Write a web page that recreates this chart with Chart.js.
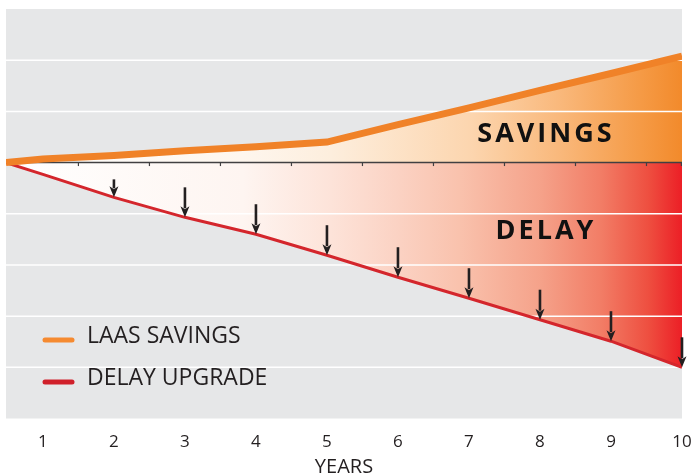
<!DOCTYPE html>
<html>
<head>
<meta charset="utf-8">
<title>LAAS savings vs delay upgrade</title>
<script src="https://cdn.jsdelivr.net/npm/chart.js@4.4.1/dist/chart.umd.min.js"></script>
<style>
  html, body { margin: 0; padding: 0; background: #fff; }
  #wrap { width: 694px; height: 474px; }
</style>
</head>
<body>
<div id="wrap"><canvas id="chart" width="694" height="474"></canvas></div>
<script>
// Years (first point is where both lines start, at the left edge of the plot)
const years = [0.48, 1, 2, 3, 4, 5, 6, 7, 8, 9, 10];
const yearTicks = [1, 2, 3, 4, 5, 6, 7, 8, 9, 10];
const savings = [0, 0.07, 0.14, 0.23, 0.31, 0.40, 0.74, 1.07, 1.41, 1.74, 2.08];
const delay = [0, -0.23, -0.68, -1.07, -1.40, -1.81, -2.24, -2.65, -3.07, -3.49, -4.00];
const arrowYears = [2, 3, 4, 5, 6, 7, 8, 9, 10];
const gridValues = [-4, -3, -2, -1, 1, 2];
const seriesNames = ['LAAS SAVINGS', 'DELAY UPGRADE'];
const areaNames = ['SAVINGS', 'DELAY'];

const FONT = "'Open Sans', 'DejaVu Sans', sans-serif";
const TEXT = '#231f20';

const savingsStops = [
  [0, '#ffffff'], [0.35, '#fef6ee'], [0.48, '#fdeedd'], [0.69, '#fcd5ae'],
  [0.82, '#f9b87b'], [0.94, '#f59a45'], [1, '#f28a2b']
];
const delayStops = [
  [0, '#ffffff'], [0.35, '#fef5f1'], [0.48, '#fde3d9'], [0.58, '#fbd2c3'],
  [0.67, '#f9c2ad'], [0.79, '#f5a28a'], [0.88, '#f27d66'], [0.95, '#ee4f40'], [1, '#ec1f26']
];

function horizGradient(chart, stops) {
  const area = chart.chartArea;
  if (!area) return 'transparent';
  const g = chart.ctx.createLinearGradient(area.left, 0, area.right, 0);
  stops.forEach(([t, c]) => g.addColorStop(t, c));
  return g;
}

const toPoints = (vals) => vals.map((v, i) => ({ x: years[i], y: v }));

// Gray plot background
const backgroundPlugin = {
  id: 'plotBackground',
  beforeDraw(chart) {
    const { ctx, chartArea: a } = chart;
    ctx.save();
    ctx.fillStyle = '#e6e7e8';
    ctx.fillRect(a.left, a.top, a.right - a.left, a.bottom - a.top);
    ctx.restore();
  }
};

// White grid lines and the zero axis go over the fills but under the lines
const gridPlugin = {
  id: 'gridOverFill',
  beforeDatasetsDraw(chart) {
    const { ctx, chartArea: a, scales } = chart;
    ctx.save();
    ctx.strokeStyle = '#ffffff';
    ctx.lineWidth = 1.5;
    gridValues.forEach(v => {
      const y = scales.y.getPixelForValue(v);
      ctx.beginPath();
      ctx.moveTo(a.left, y);
      ctx.lineTo(a.right, y);
      ctx.stroke();
    });
    // zero axis with small tick marks between the year labels
    const y0 = scales.y.getPixelForValue(0);
    ctx.strokeStyle = '#414042';
    ctx.lineWidth = 1.5;
    ctx.beginPath();
    ctx.moveTo(a.left, y0);
    ctx.lineTo(a.right, y0);
    ctx.stroke();
    ctx.lineWidth = 1.2;
    yearTicks.forEach(yr => {
      const x = yr < 10 ? scales.x.getPixelForValue(yr + 0.5) : a.right - 0.6;
      ctx.beginPath();
      ctx.moveTo(x, y0);
      ctx.lineTo(x, y0 + 3.5);
      ctx.stroke();
    });
    ctx.restore();
  }
};

// Arrows, area labels and legend
const overlayPlugin = {
  id: 'overlay',
  afterDatasetsDraw(chart) {
    const { ctx, chartArea: a, scales } = chart;
    ctx.save();
    ctx.fillStyle = TEXT;
    ctx.strokeStyle = TEXT;
    arrowYears.forEach(yr => {
      const x = scales.x.getPixelForValue(yr);
      const tip = scales.y.getPixelForValue(delay[years.indexOf(yr)]);
      const len = yr === 2 ? 18 : 30;
      const head = 11;
      ctx.lineWidth = 2.6;
      ctx.beginPath();
      ctx.moveTo(x, tip - len);
      ctx.lineTo(x, tip - head + 2);
      ctx.stroke();
      ctx.beginPath();
      ctx.moveTo(x - 4.5, tip - head);
      ctx.lineTo(x, tip - head + 3);
      ctx.lineTo(x + 4.5, tip - head);
      ctx.lineTo(x, tip);
      ctx.closePath();
      ctx.fill();
    });

    // area labels
    ctx.font = "bold 27px " + FONT;
    ctx.letterSpacing = '3px';
    ctx.textAlign = 'center';
    ctx.textBaseline = 'middle';
    ctx.fillStyle = '#111111';
    ctx.fillText(areaNames[0], 546, 134);
    ctx.fillText(areaNames[1], 546, 231);
    ctx.letterSpacing = '0px';

    // legend
    ctx.textAlign = 'left';
    ctx.font = "23px " + FONT;
    const rows = [a.top + 331, a.top + 373];
    chart.data.datasets.forEach((ds, i) => {
      const y = rows[i];
      ctx.strokeStyle = ds.legendColor;
      ctx.lineWidth = 5;
      ctx.lineCap = 'round';
      ctx.beginPath();
      ctx.moveTo(a.left + 39, y);
      ctx.lineTo(a.left + 66, y);
      ctx.stroke();
      ctx.fillStyle = TEXT;
      ctx.fillText(ds.label, a.left + 81, y - 4);
    });
    ctx.restore();
  }
};

new Chart(document.getElementById('chart'), {
  type: 'line',
  data: {
    datasets: [
      {
        label: seriesNames[0],
        data: toPoints(savings),
        borderColor: '#f08228',
        legendColor: '#f58a30',
        borderWidth: 7,
        pointRadius: 0,
        tension: 0,
        fill: 'origin',
        backgroundColor: (c) => horizGradient(c.chart, savingsStops)
      },
      {
        label: seriesNames[1],
        data: toPoints(delay),
        borderColor: '#d4262c',
        legendColor: '#d0202a',
        borderWidth: 3,
        pointRadius: 0,
        tension: 0,
        fill: 'origin',
        backgroundColor: (c) => horizGradient(c.chart, delayStops)
      }
    ]
  },
  options: {
    responsive: false,
    animation: false,
    layout: { padding: { left: 6, right: 12, top: 9, bottom: 0 } },
    plugins: {
      legend: { display: false },
      tooltip: { enabled: false },
      filler: { drawTime: 'beforeDatasetsDraw' }
    },
    scales: {
      x: {
        type: 'linear',
        min: 0.48,
        max: 10,
        afterBuildTicks: (s) => { s.ticks = yearTicks.map(v => ({ value: v })); },
        afterFit: (s) => { s.paddingRight = 0; s.paddingLeft = 0; s.height = 55.5; },
        grid: { display: false, drawTicks: false },
        border: { display: false },
        ticks: {
          font: { family: FONT, size: 17 },
          color: TEXT,
          padding: 13,
          maxRotation: 0,
          autoSkip: false,
          callback: (v) => String(v)
        },
        title: {
          display: true,
          text: 'YEARS',
          color: TEXT,
          font: { family: FONT, size: 20, lineHeight: 1 },
          padding: { top: 0, bottom: -3 }
        }
      },
      y: {
        display: false,
        min: -5,
        max: 3
      }
    }
  },
  plugins: [backgroundPlugin, gridPlugin, overlayPlugin]
});
</script>
</body>
</html>
